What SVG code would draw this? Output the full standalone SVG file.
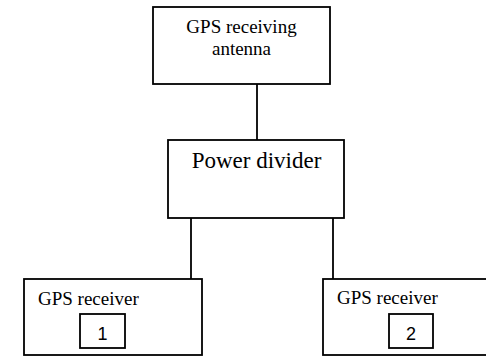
<svg xmlns="http://www.w3.org/2000/svg" width="486" height="357" viewBox="0 0 486 357">
<style>
.box{fill:#fff;stroke:#000;stroke-width:1.8}
.t{font-family:"Liberation Serif","Times New Roman",serif;fill:#000}
.n{font-family:"Liberation Sans",Arial,sans-serif;fill:#000;font-size:18px;text-anchor:middle}
.c{stroke:#000;stroke-width:1.8;fill:none}
</style>
<rect width="486" height="357" fill="#fff"/>
<g id="connectors">
<line class="c" x1="257" y1="84" x2="257" y2="140"/>
<line class="c" x1="191" y1="218" x2="191" y2="279"/>
<line class="c" x1="333" y1="218" x2="333" y2="279"/>
</g>
<g id="antenna">
<rect class="box" x="153" y="7" width="177" height="77"/>
<text class="t" x="241.5" y="33" font-size="19" text-anchor="middle">GPS receiving</text>
<text class="t" x="241.5" y="55" font-size="19" text-anchor="middle">antenna</text>
</g>
<g id="divider">
<rect class="box" x="168" y="140" width="176" height="78"/>
<text class="t" x="256.5" y="168" font-size="23" text-anchor="middle">Power divider</text>
</g>
<g id="receiver1">
<rect class="box" x="24" y="279" width="178" height="76"/>
<text class="t" x="38" y="305" font-size="19">GPS receiver</text>
<rect class="box" x="80" y="314" width="45" height="34"/>
<text class="n" x="102.5" y="340">1</text>
</g>
<g id="receiver2">
<rect class="box" x="323" y="279" width="170" height="76"/>
<text class="t" x="337" y="304" font-size="19">GPS receiver</text>
<rect class="box" x="389" y="314" width="44" height="34"/>
<text class="n" x="411" y="340">2</text>
</g>
</svg>
